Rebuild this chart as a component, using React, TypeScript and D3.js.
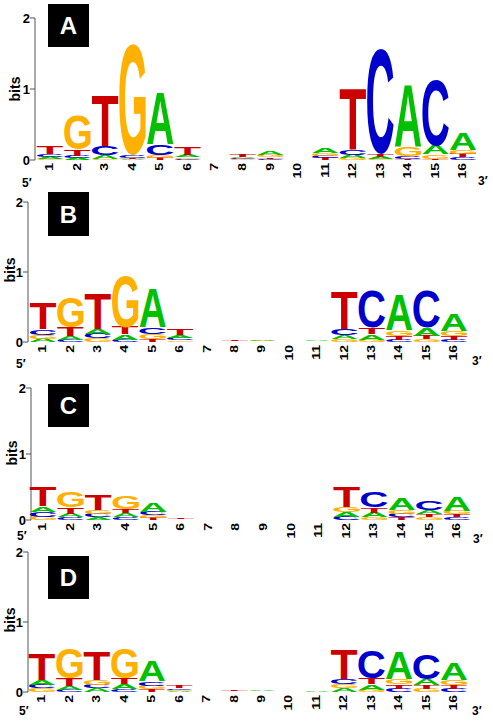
import React, { useMemo } from "react";
import * as d3 from "d3";

// ---------- data ----------
const bases = ["A", "C", "G", "T"];
const positionLabels = ["1","2","3","4","5","6","7","8","9","10","11","12","13","14","15","16"];
const yTickValues = [0, 1, 2];
const panelLetters = ["A", "B", "C", "D"];

// bits per position, order [A, C, G, T]
const logoA = [
  [0.03, 0.04, 0.015, 0.10],
  [0.025, 0.035, 0.49, 0.09],
  [0.05, 0.13, 0.02, 0.70],
  [0.01, 0.04, 1.55, 0.02],
  [0.73, 0.15, 0.04, 0.03],
  [0.03, 0.015, 0.02, 0.10],
  [0, 0, 0, 0],
  [0.02, 0.015, 0.01, 0.025],
  [0.05, 0.015, 0.03, 0.02],
  [0, 0, 0, 0],
  [0.07, 0.03, 0.04, 0.025],
  [0.045, 0.08, 0.03, 0.85],
  [0.025, 1.49, 0.02, 0.03],
  [0.87, 0.04, 0.12, 0.02],
  [0.12, 0.92, 0.06, 0.02],
  [0.23, 0.04, 0.06, 0.045],
];
const logoB = [
  [0.045, 0.08, 0.055, 0.36],
  [0.06, 0.03, 0.44, 0.12],
  [0.07, 0.065, 0.055, 0.50],
  [0.08, 0.03, 0.74, 0.10],
  [0.56, 0.10, 0.07, 0.04],
  [0.04, 0.03, 0.025, 0.09],
  [0, 0, 0, 0],
  [0.005, 0.005, 0.005, 0.02],
  [0.02, 0.005, 0.01, 0.005],
  [0, 0, 0, 0],
  [0.015, 0.003, 0.003, 0.003],
  [0.06, 0.09, 0.04, 0.54],
  [0.08, 0.52, 0.03, 0.09],
  [0.50, 0.03, 0.08, 0.06],
  [0.11, 0.53, 0.04, 0.05],
  [0.24, 0.035, 0.065, 0.05],
];
const logoC = [
  [0.08, 0.075, 0.05, 0.30],
  [0.05, 0.04, 0.24, 0.10],
  [0.045, 0.05, 0.055, 0.23],
  [0.06, 0.04, 0.20, 0.065],
  [0.13, 0.05, 0.04, 0.03],
  [0.005, 0.005, 0.005, 0.02],
  [0, 0, 0, 0],
  [0, 0, 0, 0],
  [0, 0, 0, 0],
  [0, 0, 0, 0],
  [0, 0, 0, 0],
  [0.07, 0.05, 0.08, 0.32],
  [0.07, 0.23, 0.04, 0.08],
  [0.18, 0.05, 0.055, 0.04],
  [0.06, 0.14, 0.04, 0.045],
  [0.21, 0.04, 0.055, 0.045],
];
const logoD = [
  [0.065, 0.055, 0.05, 0.36],
  [0.06, 0.03, 0.43, 0.10],
  [0.05, 0.055, 0.065, 0.40],
  [0.07, 0.04, 0.44, 0.09],
  [0.29, 0.06, 0.05, 0.04],
  [0.015, 0.025, 0.02, 0.03],
  [0, 0, 0, 0],
  [0.003, 0.003, 0.003, 0.015],
  [0.015, 0.003, 0.003, 0.003],
  [0, 0, 0, 0],
  [0.01, 0, 0, 0],
  [0.055, 0.07, 0.06, 0.43],
  [0.08, 0.40, 0.03, 0.09],
  [0.39, 0.05, 0.07, 0.06],
  [0.09, 0.36, 0.045, 0.05],
  [0.24, 0.045, 0.07, 0.05],
];
const logos = [logoA, logoB, logoC, logoD];

// ---------- layout ----------
const W = 493;
const H = 721;
const baseColors: Record<string, string> = {
  A: "#00c000",
  C: "#0000cc",
  G: "#ffb000",
  T: "#cc0000",
};
const FONT = "'Liberation Sans', Arial, Helvetica, sans-serif";

const panels = [
  { axisX: 35, yBase: 160, yTop: 18, c1: 50, c16: 463, box: [48, 4, 41, 43], bits: [15, 89], five: [22, 187], three: [478, 185] },
  { axisX: 28, yBase: 342, yTop: 202, c1: 43, c16: 454, box: [48, 192, 41, 44], bits: [10, 270], five: [16, 368], three: [472, 365] },
  { axisX: 31, yBase: 520, yTop: 388, c1: 43, c16: 457, box: [48, 384, 41, 43], bits: [12, 453], five: [17, 540], three: [473, 543] },
  { axisX: 28, yBase: 692, yTop: 552, c1: 42, c16: 454, box: [48, 556, 41, 43], bits: [10, 620], five: [19, 715], three: [472, 715] },
];

type Ink = { left: number; right: number; ascent: number; descent: number };
const MEASURE_SIZE = 200;

function useInk(): Record<string, Ink> {
  return useMemo(() => {
    const out: Record<string, Ink> = {};
    const canvas = document.createElement("canvas");
    const ctx = canvas.getContext("2d")!;
    ctx.font = `bold ${MEASURE_SIZE}px ${FONT}`;
    for (const b of bases) {
      const m = ctx.measureText(b);
      out[b] = {
        left: m.actualBoundingBoxLeft,
        right: m.actualBoundingBoxRight,
        ascent: m.actualBoundingBoxAscent,
        descent: m.actualBoundingBoxDescent,
      };
    }
    return out;
  }, []);
}

function Panel({ idx, ink }: { idx: number; ink: Record<string, Ink> }) {
  const p = panels[idx];
  const data = logos[idx];
  const x = d3.scalePoint<string>().domain(positionLabels).range([p.c1, p.c16]);
  const y = d3.scaleLinear().domain([0, 2]).range([p.yBase, p.yTop]);
  const step = x.step();
  const lw = step * 0.96;

  const glyphs: React.ReactNode[] = [];
  data.forEach((col, i) => {
    const cx = x(positionLabels[i])!;
    const items = bases.map((b, k) => ({ b, v: col[k] })).filter((d) => d.v > 0);
    items.sort((a, b) => a.v - b.v);
    let acc = 0;
    items.forEach((it) => {
      const y0 = y(acc);
      const y1 = y(acc + it.v);
      acc += it.v;
      const h = y0 - y1;
      if (h < 0.5) return;
      const m = ink[it.b];
      const iw = m.left + m.right;
      const ih = m.ascent + m.descent;
      const sx = lw / iw;
      const sy = h / ih;
      const bx = cx - lw / 2;
      glyphs.push(
        <text
          key={`${i}-${it.b}`}
          x={0}
          y={0}
          fontFamily={FONT}
          fontWeight="bold"
          fontSize={MEASURE_SIZE}
          fill={baseColors[it.b]}
          transform={`translate(${bx},${y0}) scale(${sx},${sy}) translate(${m.left},${-m.descent})`}
        >
          {it.b}
        </text>
      );
    });
  });

  return (
    <g>
      {/* y axis */}
      <line x1={p.axisX} x2={p.axisX} y1={p.yTop} y2={p.yBase} stroke="#555" strokeWidth={1} />
      {yTickValues.map((t) => (
        <g key={t}>
          <line x1={p.axisX - 5} x2={p.axisX} y1={y(t)} y2={y(t)} stroke="#555" strokeWidth={1} />
          <text
            x={p.axisX - 5}
            y={y(t)}
            textAnchor="end"
            dominantBaseline="central"
            fontFamily={FONT}
            fontWeight="bold"
            fontSize={13}
            fill="#000"
          >
            {t}
          </text>
        </g>
      ))}
      <text
        transform={`translate(${p.bits[0]},${p.bits[1]}) rotate(-90)`}
        textAnchor="middle"
        dominantBaseline="central"
        fontFamily={FONT}
        fontWeight="bold"
        fontSize={14}
      >
        bits
      </text>
      {/* letters */}
      {glyphs}
      {/* position labels */}
      {positionLabels.map((lab) => (
        <text
          key={lab}
          transform={`translate(${x(lab)},${p.yBase + 3}) rotate(-90) scale(1.4,1)`}
          textAnchor="end"
          dominantBaseline="central"
          fontFamily={FONT}
          fontWeight="bold"
          fontSize={10}
          fill="#000"
        >
          {lab}
        </text>
      ))}
      <text x={p.five[0]} y={p.five[1]} fontFamily={FONT} fontWeight="bold" fontSize={12}>
        5′
      </text>
      <text x={p.three[0]} y={p.three[1]} fontFamily={FONT} fontWeight="bold" fontSize={12}>
        3′
      </text>
      {/* panel label */}
      <rect x={p.box[0]} y={p.box[1]} width={p.box[2]} height={p.box[3]} fill="#000" />
      <text
        x={p.box[0] + p.box[2] / 2}
        y={p.box[1] + p.box[3] / 2}
        textAnchor="middle"
        dominantBaseline="central"
        fontFamily={FONT}
        fontWeight="bold"
        fontSize={24}
        fill="#fff"
      >
        {panelLetters[idx]}
      </text>
    </g>
  );
}

export default function App() {
  const ink = useInk();
  return (
    <svg
      width={W}
      height={H}
      viewBox={`0 0 ${W} ${H}`}
      style={{ position: "absolute", left: 0, top: 0, background: "#fff" }}
    >
      <rect x={0} y={0} width={W} height={H} fill="#fff" />
      {panels.map((_, i) => (
        <Panel key={i} idx={i} ink={ink} />
      ))}
    </svg>
  );
}
